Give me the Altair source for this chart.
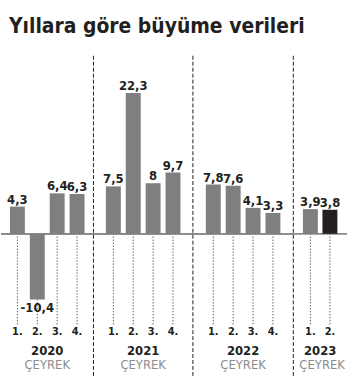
import altair as alt
import pandas as pd

years = ["2020", "2021", "2022", "2023"]
quarters = {
    "2020": ["1.", "2.", "3.", "4."],
    "2021": ["1.", "2.", "3.", "4."],
    "2022": ["1.", "2.", "3.", "4."],
    "2023": ["1.", "2."],
}
values = {
    "2020": [4.3, -10.4, 6.4, 6.3],
    "2021": [7.5, 22.3, 8.0, 9.7],
    "2022": [7.8, 7.6, 4.1, 3.3],
    "2023": [3.9, 3.8],
}
title_text = "Yıllara göre büyüme verileri"
unit_text = "ÇEYREK"

panel_widths = {"2020": 93, "2021": 100, "2022": 101, "2023": 54}
outer_pad = {"2020": 0.45, "2021": 0.625, "2022": 0.65, "2023": 0.5}

FONT_N = "DejaVu Sans Condensed, sans-serif"
DARK = "#231f20"
GRAY = "#7f7f81"
H = 378
ZERO_PX = 234
PPU = 6.35
ydom = [-(H - ZERO_PX) / PPU, ZERO_PX / PPU]


def fmt(v):
    s = f"{v:g}".replace(".", ",")
    return s


panels = []
for i, yr in enumerate(years):
    qs = quarters[yr]
    vs = values[yr]
    last = (yr == years[-1])
    df = pd.DataFrame({
        "q": qs,
        "v": vs,
        "lab": [fmt(v) for v in vs],
        "dark": [last and j == len(qs) - 1 for j in range(len(qs))],
    })
    w = panel_widths[yr]
    xs = alt.Scale(domain=qs, paddingInner=0.25, paddingOuter=outer_pad[yr])
    ys = alt.Scale(domain=ydom, nice=False, zero=False)
    base = alt.Chart(df)
    X = alt.X("q:N", scale=xs, axis=None, sort=qs)

    dots = base.mark_rule(strokeDash=[1, 2], color=DARK, strokeWidth=1).encode(
        x=X, y=alt.Y(datum=0, scale=ys, axis=None), y2=alt.value(325)
    )
    baseline = base.mark_rule(color="#8a8a8c", strokeWidth=1.5).encode(
        x=alt.value(0), x2=alt.value(w), y=alt.Y(datum=0, scale=ys, axis=None)
    )
    bars = base.mark_bar(size=15).encode(
        x=X,
        y=alt.Y("v:Q", scale=ys, axis=None),
        y2=alt.Y2(datum=0),
        color=alt.Color("dark:N", scale=alt.Scale(domain=[False, True], range=[GRAY, DARK]), legend=None),
    )
    pos_lab = base.transform_filter("datum.v >= 0").mark_text(
        font=FONT_N, fontWeight="bold", fontSize=13, color=DARK, baseline="alphabetic", dy=-3
    ).encode(x=X, y=alt.Y("v:Q", scale=ys, axis=None), text="lab:N")
    neg_lab = base.transform_filter("datum.v < 0").mark_text(
        font=FONT_N, fontWeight="bold", fontSize=13, color=DARK, baseline="top", dy=3
    ).encode(x=X, y=alt.Y("v:Q", scale=ys, axis=None), text="lab:N")
    qlab = base.mark_text(
        font=FONT_N, fontWeight="bold", fontSize=11, color=DARK, baseline="middle"
    ).encode(x=X, y=alt.value(333), text="q:N")

    ydf = pd.DataFrame({"year": [yr], "unit": [unit_text]})
    ylab = alt.Chart(ydf).mark_text(
        font=FONT_N, fontWeight="bold", fontSize=13, color=DARK, baseline="middle"
    ).encode(x=alt.value(w / 2), y=alt.value(352), text="year:N")
    ulab = alt.Chart(ydf).mark_text(
        font=FONT_N, fontSize=13, color="#8c8c8e", baseline="middle"
    ).encode(x=alt.value(w / 2 + (2 if i == len(years) - 1 else 0)), y=alt.value(366), text="unit:N")

    layers = [dots, baseline, bars, pos_lab, neg_lab, qlab, ylab, ulab]
    if i > 0:
        sep = alt.Chart(ydf).mark_rule(strokeDash=[4, 2], color=DARK, strokeWidth=1).encode(
            x=alt.value(0), y=alt.value(55), y2=alt.value(H)
        )
        layers.append(sep)
    if i == 0:
        tdf = pd.DataFrame({"t": [title_text]})
        title = alt.Chart(tdf).mark_text(
            font=FONT_N, fontWeight="bold", fontSize=21, color=DARK,
            align="left", baseline="alphabetic"
        ).encode(x=alt.value(8), y=alt.value(32), text="t:N")
        layers.append(title)

    p = alt.layer(*layers).properties(width=w, height=H)
    panels.append(p)

chart = alt.hconcat(*panels, spacing=0, bounds="flush").properties(padding=0).configure_view(
    stroke=None
).configure_concat(spacing=0)

chart.save("out.html", embed_options={"renderer": "svg", "actions": False})
